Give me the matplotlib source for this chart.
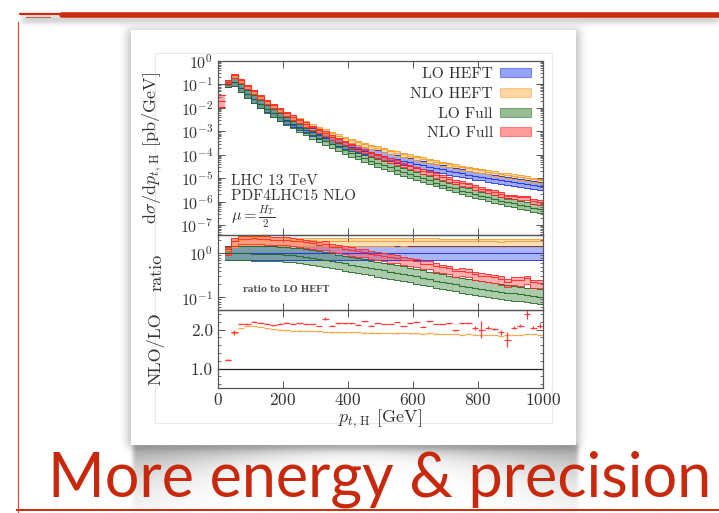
import numpy as np
import matplotlib
matplotlib.use("Agg")
import matplotlib.pyplot as plt
from matplotlib.patches import Patch, Rectangle
from matplotlib.ticker import LogLocator, FixedLocator, MultipleLocator, NullFormatter

# ---------------- data ----------------
# 20 GeV bins from 20 to 1000 GeV (bin centres)
pt_centres = list(range(30, 1000, 20))
bin_half = 10

# log10 of LO HEFT dsigma/dpT [pb/GeV]
log_lo_heft = [-0.97, -0.90, -1.15, -1.40, -1.63, -1.84, -2.03, -2.21, -2.38,
               -2.53, -2.67, -2.80, -2.93, -3.05, -3.16, -3.27, -3.38, -3.48, -3.58,
               -3.67, -3.76, -3.84, -3.92, -3.99, -4.06, -4.13, -4.20, -4.27, -4.33,
               -4.39, -4.45, -4.51, -4.57, -4.63, -4.69, -4.74, -4.80, -4.85, -4.90,
               -4.94, -4.99, -5.04, -5.09, -5.13, -5.17, -5.22, -5.26, -5.31, -5.35]

# LO Full / LO HEFT
lo_full_ratio = [1.00, 1.00, 1.00, 1.00, 0.99, 0.99, 0.98, 0.97, 0.95,
                 0.93, 0.90, 0.87, 0.83, 0.79, 0.75, 0.71, 0.67, 0.63, 0.59,
                 0.55, 0.52, 0.49, 0.46, 0.43, 0.41, 0.385, 0.36, 0.34, 0.32,
                 0.30, 0.28, 0.26, 0.24, 0.225, 0.21, 0.198, 0.186, 0.175, 0.165,
                 0.156, 0.148, 0.141, 0.135, 0.129, 0.123, 0.118, 0.113, 0.108, 0.103]

# NLO/LO K-factors
k_heft = [1.22, 1.90, 2.04, 2.09, 2.09, 2.07, 2.03, 2.01, 2.00,
          1.98, 1.97, 1.97, 1.96, 1.96, 1.95, 1.94, 1.93, 1.93, 1.93,
          1.93, 1.93, 1.92, 1.92, 1.92, 1.91, 1.91, 1.90, 1.91, 1.90,
          1.90, 1.89, 1.90, 1.89, 1.88, 1.88, 1.88, 1.87, 1.88, 1.87,
          1.87, 1.86, 1.86, 1.83, 1.87, 1.86, 1.87, 1.88, 1.88, 1.86]
k_full = [1.23, 1.93, 2.15, 2.15, 2.20, 2.17, 2.15, 2.11, 2.15,
          2.17, 2.15, 2.16, 2.15, 2.14, 2.09, 2.28, 2.10, 2.16, 2.16,
          2.16, 2.12, 2.21, 2.10, 2.16, 2.14, 2.14, 2.19, 2.09, 2.16,
          2.20, 2.07, 2.21, 2.14, 2.14, 2.16, 1.98, 2.16, 2.16, 2.03,
          2.00, 2.05, 2.02, 1.93, 1.74, 2.05, 2.10, 2.39, 2.05, 2.10]
k_full_err = [0.01, 0.06, 0.01, 0.01, 0.01, 0.01, 0.01, 0.01, 0.01,
              0.01, 0.01, 0.01, 0.01, 0.01, 0.01, 0.03, 0.01, 0.01, 0.01,
              0.01, 0.01, 0.02, 0.01, 0.01, 0.01, 0.01, 0.01, 0.01, 0.01,
              0.01, 0.01, 0.02, 0.01, 0.01, 0.01, 0.02, 0.01, 0.01, 0.05,
              0.22, 0.03, 0.03, 0.06, 0.20, 0.04, 0.04, 0.13, 0.04, 0.06]
k_heft_err = 0.008

# scale-variation envelopes (relative to central value)
lo_scale = (0.69, 1.48)
nlo_scale = (0.75, 1.15)

# lowest NLO Full bin (0-20 GeV)
nlo_full_first = 0.02
nlo_full_first_scale = (0.55, 1.75)

labels = ["LO HEFT", "NLO HEFT", "LO Full", "NLO Full"]
faces = ["#2e46f0", "#ffb04a", "#2f7d2f", "#ff3b3b"]
edges = ["#1f35d8", "#f5a030", "#226b22", "#ff2a2a"]

# ---------------- derived curves ----------------
x = np.array(pt_centres, dtype=float)
lo_heft = 10.0 ** np.array(log_lo_heft)
r_lo_full = np.array(lo_full_ratio)
kh = np.array(k_heft)
kf = np.array(k_full)
curves = {
    "LO HEFT": (lo_heft, lo_scale),
    "NLO HEFT": (lo_heft * kh, nlo_scale),
    "LO Full": (lo_heft * r_lo_full, lo_scale),
    "NLO Full": (lo_heft * r_lo_full * kf, nlo_scale),
}

plt.rcParams.update({
    "font.family": "serif",
    "font.serif": ["cmr10"],
    "mathtext.fontset": "cm",
    "axes.unicode_minus": False,
    "axes.formatter.use_mathtext": True,
    "text.color": "#333333",
    "axes.edgecolor": "#555555",
    "xtick.color": "#555555",
    "ytick.color": "#555555",
    "xtick.labelcolor": "#333333",
    "ytick.labelcolor": "#333333",
})

W, H = 719, 513
fig = plt.figure(figsize=(W / 100, H / 100), dpi=100)
fig.patch.set_facecolor("white")

# ---------------- slide decoration ----------------
bg = fig.add_axes([0, 0, 1, 1], zorder=0)
bg.set_xlim(0, W)
bg.set_ylim(H, 0)
bg.axis("off")

yy, xx = np.mgrid[0:H, 0:W] + 0.5


def blur(a, s):
    r = int(3 * s)
    k = np.exp(-0.5 * (np.arange(-r, r + 1) / s) ** 2)
    k /= k.sum()
    a = np.apply_along_axis(lambda m: np.convolve(m, k, mode="same"), 0, a)
    a = np.apply_along_axis(lambda m: np.convolve(m, k, mode="same"), 1, a)
    return a


def box(x0, x1, y0, y1):
    return ((xx >= x0) & (xx <= x1) & (yy >= y0) & (yy <= y1)).astype(float)


card = (131, 576, 30, 445)
a_card = blur(box(127, 580, 29, 447), 4.0) * 0.32
u = np.clip((xx - 355) / 222.0, -1, 1)
depth = 6 + 24 * u ** 2
a_curl = np.where(yy >= 444, 0.6 * np.exp(-(yy - 444) / depth), 0.0)
a_curl *= box(133, 578, 0, H)
a_curl = blur(a_curl, 2.0)
a_bar = blur(box(22, W + 10, 17, 22), 3.0) * 0.4
alpha = 1 - (1 - a_card) * (1 - a_curl) * (1 - a_bar)
shadow = np.zeros((H, W, 4))
shadow[..., :3] = 0.3
shadow[..., 3] = np.clip(alpha, 0, 1)
bg.imshow(shadow, extent=(0, W, H, 0), interpolation="bilinear", zorder=1)

bg.add_patch(Rectangle((card[0], card[2]), card[1] - card[0], card[3] - card[2],
                       facecolor="white", edgecolor="none", zorder=2))
bg.add_patch(Rectangle((155, 53), 397, 370, facecolor="white",
                       edgecolor="#e8e8e8", lw=0.8, zorder=3))

red = "#cc2a0c"
bg.plot([20, 80], [13.5, 13.5], color=red, lw=1.6, solid_capstyle="round", zorder=4)
bg.plot([26, 50], [16.5, 16.5], color=red, lw=0.8, alpha=0.7, zorder=4)
bg.plot([62, W], [15.2, 15.2], color=red, lw=4.0, solid_capstyle="round", zorder=4)
bg.plot([17.5, 17.5], [22, H], color=red, lw=0.9, alpha=0.8, zorder=4)
bg.plot([17, W], [509.5, 509.5], color=red, lw=1.4, zorder=4)

bg.text(48, 497, "More energy & precision", family="Lato", fontsize=44,
        color="#c8290c", ha="left", va="baseline", zorder=5)

# ---------------- plot panels ----------------
x_l, x_r = 218, 543


def panel(top, bottom):
    return fig.add_axes([x_l / W, 1 - bottom / H, (x_r - x_l) / W, (bottom - top) / H],
                        zorder=5)


ax1 = panel(61, 235)
ax2 = panel(235, 310)
ax3 = panel(310, 388)

e_lo = x - bin_half
e_all = np.r_[e_lo, x[-1] + bin_half]


def stepv(v):
    return np.r_[v, v[-1]]


def band(ax, c, scale, face, edge, alpha_f=0.45, central=True):
    lo = c * scale[0]
    hi = c * scale[1]
    ax.fill_between(e_all, stepv(lo), stepv(hi), step="post", facecolor=face,
                    alpha=alpha_f, edgecolor="none", lw=0)
    ax.step(e_all, stepv(lo), where="post", color=edge, lw=0.7, alpha=0.9)
    ax.step(e_all, stepv(hi), where="post", color=edge, lw=0.7, alpha=0.9)
    if central:
        ax.step(e_all, stepv(c), where="post", color=edge, lw=0.8, alpha=0.9)


for name, face, edge in zip(labels, faces, edges):
    c, sc = curves[name]
    band(ax1, c, sc, face, edge)
    band(ax2, c / lo_heft, sc, face, edge, alpha_f=0.4)

# NLO Full lowest bin
ax1.fill_between([0, 20], [nlo_full_first * nlo_full_first_scale[0]] * 2,
                 [nlo_full_first * nlo_full_first_scale[1]] * 2,
                 facecolor=faces[3], alpha=0.45, edgecolor="none")
for f in nlo_full_first_scale + (1.0,):
    ax1.plot([0, 20], [nlo_full_first * f] * 2, color=edges[3], lw=0.7)

# NLO/LO
ax3.axhline(1.0, color="#222222", lw=0.9)
ax3.errorbar(x, kh, xerr=bin_half, yerr=k_heft_err, fmt="none",
             ecolor="#f7a84a", elinewidth=0.9)
ax3.errorbar(x, kf, xerr=bin_half, yerr=k_full_err, fmt="none",
             ecolor="#ff3d3d", elinewidth=0.9)

# ---------------- axes styling ----------------
for ax in (ax1, ax2, ax3):
    ax.set_xlim(0, 1000)
    ax.set_facecolor("none")
    ax.xaxis.set_major_locator(MultipleLocator(200))
    ax.tick_params(which="both", direction="in", top=True, right=True, labelsize=11.5)
    ax.tick_params(which="major", length=5, width=0.7)
    ax.tick_params(which="minor", length=2.5, width=0.6)
    for s in ax.spines.values():
        s.set_linewidth(0.9)
for ax in (ax1, ax2):
    ax.tick_params(labelbottom=False)
ax3.tick_params(axis="x", labelsize=12.5, pad=3)

ax1.set_yscale("log")
ax1.set_ylim(10 ** -7.43, 1.0)
ax1.yaxis.set_major_locator(LogLocator(base=10, numticks=12))
ax1.yaxis.set_minor_locator(LogLocator(base=10, subs=np.arange(2, 10), numticks=12))
ax1.yaxis.set_minor_formatter(NullFormatter())

ax2.set_yscale("log")
ax2.set_ylim(0.052, 2.6)
ax2.yaxis.set_major_locator(FixedLocator([0.1, 1.0]))
ax2.yaxis.set_minor_locator(LogLocator(base=10, subs=np.arange(2, 10), numticks=12))
ax2.yaxis.set_minor_formatter(NullFormatter())

ax3.set_ylim(0.5, 2.5)
ax3.yaxis.set_major_locator(FixedLocator([1.0, 2.0]))
ax3.yaxis.set_minor_locator(MultipleLocator(0.2))
ax3.yaxis.set_major_formatter(plt.FormatStrFormatter("%.1f"))
ax3.tick_params(axis="y", labelsize=12.5)

lab_kw = dict(fontsize=13, color="#333333")
ax1.set_ylabel(r"$\mathrm{d}\sigma/\mathrm{d}p_{t,\,\mathrm{H}}$ [pb/GeV]", **lab_kw)
ax2.set_ylabel("ratio", **lab_kw)
ax3.set_ylabel("NLO/LO", **lab_kw)
for ax in (ax1, ax2, ax3):
    ax.yaxis.set_label_coords(-0.165, 0.5)
ax3.set_xlabel(r"$p_{t,\,\mathrm{H}}$ [GeV]", **lab_kw)
ax3.xaxis.set_label_coords(0.5, -0.25)

ax1.text(0.04, 0.31, "LHC 13 TeV", transform=ax1.transAxes, fontsize=11,
         va="center", ha="left")
ax1.text(0.04, 0.225, "PDF4LHC15 NLO", transform=ax1.transAxes, fontsize=11,
         va="center", ha="left")
ax1.text(0.04, 0.108, r"$\mu = \frac{H_T}{2}$", transform=ax1.transAxes, fontsize=11.5,
         va="center", ha="left")

ax2.text(0.077, 0.28, "ratio to LO HEFT", transform=ax2.transAxes, fontsize=6.5,
         family="DejaVu Serif", fontweight="bold", color="#555555",
         va="center", ha="left")

handles = [Patch(facecolor=f, edgecolor=e, alpha=0.5, lw=0.8) for f, e in zip(faces, edges)]
ax1.legend(handles, labels, loc="upper right", bbox_to_anchor=(0.963, 0.962),
           frameon=False, markerfirst=False, fontsize=11.2, borderpad=0,
           handlelength=2.0, handleheight=0.5, handletextpad=0.45,
           labelspacing=0.38, borderaxespad=0)

fig.savefig("out.png", dpi=100, facecolor="white")
